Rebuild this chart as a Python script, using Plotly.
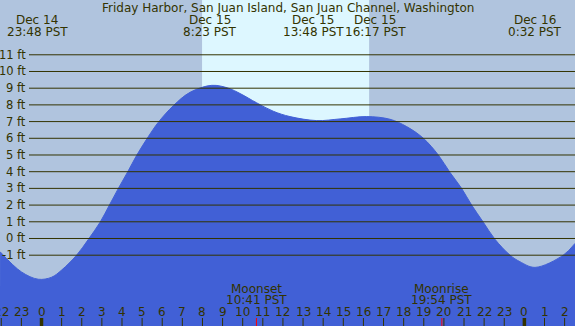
import plotly.graph_objects as go

# ---------------- data (hours from Dec 15 00:00 PST) ----------------
TIDE_T = [-2.06, -1.0, -0.16, 0.5, 1.0, 1.75, 2.33, 2.91, 3.37, 3.82, 4.28, 4.73,
          5.31, 5.8, 6.55, 7.38, 8.46, 9.29, 9.87, 10.7, 11.52, 12.35, 13.68,
          14.84, 16.16, 17.32, 18.15, 18.98, 19.72, 20.3, 20.88, 21.38, 21.96,
          22.54, 23.29, 23.78, 24.53, 25.93, 26.52]
TIDE_H = [-0.79, -2.0, -2.44, -2.32, -1.89, -0.99, -0.05, 0.97, 1.99, 3.0, 3.98, 4.98,
          6.1, 6.95, 7.95, 8.75, 9.17, 9.0, 8.68, 8.12, 7.62, 7.3, 7.06,
          7.16, 7.3, 7.14, 6.7, 6.0, 5.0, 3.96, 3.0, 2.0, 0.97,
          -0.05, -1.0, -1.39, -1.73, -1.0, -0.29]

EXTREME_T = [-0.2, 8.383, 13.8, 16.283, 24.533]
EXTREME_DATE = ["Dec 14", "Dec 15", "Dec 15", "Dec 15", "Dec 16"]
EXTREME_TIME = ["23:48 PST", "8:23 PST", "13:48 PST", "16:17 PST", "0:32 PST"]
EXTREME_XSHIFT = [0, 0, -6, 6, 0]

SUNRISE = 7.98
SUNSET = 16.283

MOON_T = [10.683, 19.9]
MOON_NAME = ["Moonset", "Moonrise"]
MOON_TIME = ["10:41 PST", "19:54 PST"]

HOUR_T = list(range(-2, 27))
HOUR_LABELS = ["22", "23", "0", "1", "2", "3", "4", "5", "6", "7", "8", "9", "10",
               "11", "12", "13", "14", "15", "16", "17", "18", "19", "20", "21",
               "22", "23", "0", "1", "2"]
MIDNIGHTS = [0, 24]

FT_TICKS = [-1, 0, 1, 2, 3, 4, 5, 6, 7, 8, 9, 10, 11]
FT_LABELS = ["-1 ft", "0 ft", "1 ft", "2 ft", "3 ft", "4 ft", "5 ft", "6 ft",
             "7 ft", "8 ft", "9 ft", "10 ft", "11 ft"]

TITLE = "Friday Harbor, San Juan Island, San Juan Channel, Washington"

# ---------------- style ----------------
W, H = 575, 326
X_RANGE = [-2.063, 26.516]
Y_RANGE = [-5.24, 14.281]
NIGHT = "#b0c4de"
DAY = "#ddf7ff"
WATER = "#4160d6"
INK = "#333300"
FONT = "DejaVu Sans"


def py(pix):
    return 1 - pix / H


fig = go.Figure()
fig.add_trace(go.Scatter(x=[X_RANGE[0], X_RANGE[1]], y=[Y_RANGE[0], Y_RANGE[0]],
                         mode="lines", line=dict(width=0), hoverinfo="skip",
                         showlegend=False))
fig.add_trace(go.Scatter(x=TIDE_T, y=TIDE_H, mode="lines", fill="tonexty",
                         fillcolor=WATER, line=dict(color=WATER, width=1,
                                                    shape="spline", smoothing=1.0),
                         showlegend=False, hoverinfo="skip"))

shapes = []
shapes.append(dict(type="rect", xref="x", yref="paper", x0=SUNRISE, x1=SUNSET,
                   y0=0, y1=1, fillcolor=DAY, line=dict(width=0), layer="below"))
for v in FT_TICKS:
    shapes.append(dict(type="line", xref="paper", yref="y", x0=29 / W, x1=1,
                       y0=v, y1=v, line=dict(color=INK, width=1), layer="above"))
for t in HOUR_T:
    wide = t in MIDNIGHTS
    shapes.append(dict(type="line", xref="x", yref="paper", x0=t, x1=t,
                       y0=0, y1=8 / H, line=dict(color=INK, width=3.5 if wide else 1),
                       layer="above"))
for t in MOON_T:
    shapes.append(dict(type="line", xref="x", yref="paper", x0=t, x1=t,
                       y0=0, y1=8 / H, line=dict(color="#ff0000", width=1),
                       layer="above"))

ann = []
fnt = dict(family=FONT, size=12, color=INK)
fnt_ft = dict(family=FONT, size=11.5, color=INK)
ann.append(dict(text=TITLE, xref="paper", yref="paper", x=0.5, y=py(8),
                showarrow=False, font=fnt, xanchor="center", yanchor="middle"))
for t, d, s, xs in zip(EXTREME_T, EXTREME_DATE, EXTREME_TIME, EXTREME_XSHIFT):
    ann.append(dict(text=d, xref="x", yref="paper", x=t, y=py(20), xshift=xs,
                    showarrow=False, font=fnt, xanchor="center", yanchor="middle"))
    ann.append(dict(text=s, xref="x", yref="paper", x=t, y=py(32), xshift=xs,
                    showarrow=False, font=fnt, xanchor="center", yanchor="middle"))
for v, lab in zip(FT_TICKS, FT_LABELS):
    ann.append(dict(text=lab, xref="paper", yref="y", x=27.5 / W, y=v,
                    showarrow=False, font=fnt_ft, xanchor="right", yanchor="middle"))
for t, lab in zip(HOUR_T, HOUR_LABELS):
    ann.append(dict(text=lab, xref="x", yref="paper", x=t, y=py(312),
                    showarrow=False, font=fnt, xanchor="center", yanchor="middle"))
for t, n, s in zip(MOON_T, MOON_NAME, MOON_TIME):
    ann.append(dict(text=n, xref="x", yref="paper", x=t, y=py(288.5),
                    showarrow=False, font=fnt, xanchor="center", yanchor="middle"))
    ann.append(dict(text=s, xref="x", yref="paper", x=t, y=py(300),
                    showarrow=False, font=fnt, xanchor="center", yanchor="middle"))

fig.update_layout(width=W, height=H, margin=dict(l=0, r=0, t=0, b=0, pad=0),
                  paper_bgcolor=NIGHT, plot_bgcolor=NIGHT,
                  xaxis=dict(range=X_RANGE, visible=False, fixedrange=True),
                  yaxis=dict(range=Y_RANGE, visible=False, fixedrange=True),
                  shapes=shapes, annotations=ann, showlegend=False)

fig.write_html("out.html", config={"displayModeBar": False},
               post_script="document.body.style.margin='0';"
                           "document.body.style.overflow='hidden';")
